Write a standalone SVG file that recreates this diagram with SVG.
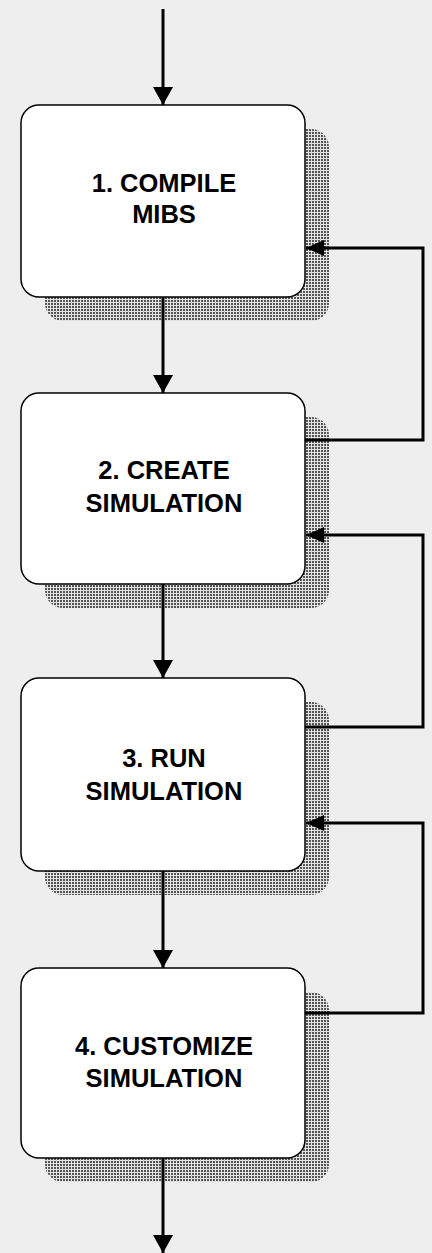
<svg xmlns="http://www.w3.org/2000/svg" width="432" height="1253" viewBox="0 0 432 1253">
  <defs>
    <!-- stippled drop shadow fill -->
    <pattern id="dots" width="3" height="3" patternUnits="userSpaceOnUse">
      <rect width="3" height="3" fill="#e2e2e2"/>
      <rect width="2" height="2" fill="#555"/>
    </pattern>
    <marker id="arrow" viewBox="0 0 18 20" refX="18" refY="10" markerWidth="18" markerHeight="20" markerUnits="userSpaceOnUse" orient="auto">
      <path d="M0,0 L18,10 L0,20 Z" fill="#000"/>
    </marker>
    <marker id="arrowSide" viewBox="0 0 18 16" refX="18" refY="8" markerWidth="18" markerHeight="16" markerUnits="userSpaceOnUse" orient="auto">
      <path d="M0,0 L18,8 L0,16 Z" fill="#000"/>
    </marker>
  </defs>
  <style>
    .shadow { fill: url(#dots); }
    .box { fill: #fff; stroke: #000; stroke-width: 1.5; }
    .label { font-family: "Liberation Sans", Arial, sans-serif; font-weight: bold; font-size: 25.5px; fill: #000; text-anchor: middle; }
    .flow { fill: none; stroke: #000; stroke-width: 3; }
  </style>

  <rect width="432" height="1253" fill="#eeeeee"/>

  <g id="step1">
    <rect class="shadow" x="45" y="129" width="284" height="192" rx="18"/>
    <rect class="box" x="21" y="105" width="284" height="192" rx="18"/>
    <text class="label" x="164" y="192">1. COMPILE</text>
    <text class="label" x="164" y="223">MIBS</text>
  </g>

  <g id="step2">
    <rect class="shadow" x="45" y="417" width="284" height="191" rx="18"/>
    <rect class="box" x="21" y="393" width="284" height="191" rx="18"/>
    <text class="label" x="164" y="479">2. CREATE</text>
    <text class="label" x="164" y="512">SIMULATION</text>
  </g>

  <g id="step3">
    <rect class="shadow" x="45" y="702" width="284" height="193" rx="18"/>
    <rect class="box" x="21" y="678" width="284" height="193" rx="18"/>
    <text class="label" x="164" y="767">3. RUN</text>
    <text class="label" x="164" y="800">SIMULATION</text>
  </g>

  <g id="step4">
    <rect class="shadow" x="45" y="992" width="284" height="190" rx="18"/>
    <rect class="box" x="21" y="968" width="284" height="190" rx="18"/>
    <text class="label" x="164" y="1055">4. CUSTOMIZE</text>
    <text class="label" x="164" y="1087">SIMULATION</text>
  </g>

  <g id="connectors">
    <!-- main downward flow -->
    <line class="flow" x1="163" y1="9" x2="163" y2="105" marker-end="url(#arrow)"/>
    <line class="flow" x1="163" y1="297" x2="163" y2="393" marker-end="url(#arrow)"/>
    <line class="flow" x1="163" y1="584" x2="163" y2="678" marker-end="url(#arrow)"/>
    <line class="flow" x1="163" y1="871" x2="163" y2="968" marker-end="url(#arrow)"/>
    <line class="flow" x1="163" y1="1158" x2="163" y2="1253" marker-end="url(#arrow)"/>
    <!-- loops back to the previous step -->
    <path class="flow" d="M305,440 H423 V248 H306" marker-end="url(#arrowSide)"/>
    <path class="flow" d="M305,727 H423 V535 H306" marker-end="url(#arrowSide)"/>
    <path class="flow" d="M305,1013 H423 V823 H306" marker-end="url(#arrowSide)"/>
  </g>
</svg>
